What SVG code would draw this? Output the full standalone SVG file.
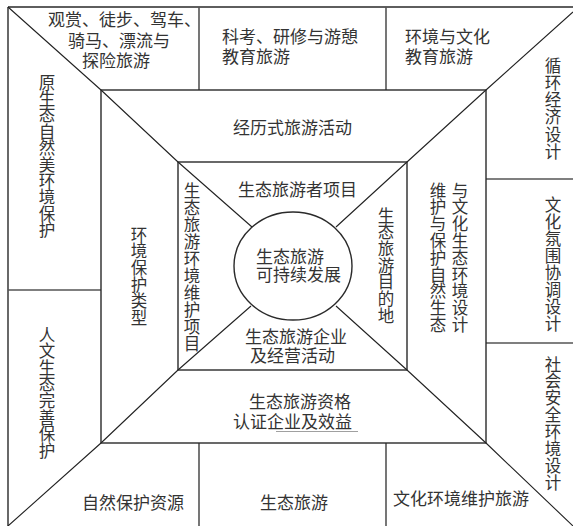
<svg xmlns="http://www.w3.org/2000/svg" width="573" height="526" viewBox="0 0 573 526">
<style>
.ln{fill:none;stroke:#2a2a2a;stroke-width:1.4}
.dv{fill:none;stroke:#555;stroke-width:1.6}
.dg{fill:none;stroke:#222;stroke-width:1.1}
text{font-family:"Noto Sans CJK SC","Noto Sans",sans-serif;fill:#333;font-size:17px}
.v{writing-mode:vertical-rl;font-size:16.5px}
</style>
<rect width="573" height="526" fill="#fff"/>
<g id="frame">
<path class="ln" d="M8,7H573M8,7V526"/>
<path class="dv" d="M199,7V90M386,7V90M199,443V526M386,443V526M8,290H101M486,179H573M486,343H573"/>
<rect class="ln" x="101" y="90" width="385" height="353"/>
<rect class="ln" x="178" y="162" width="229" height="208"/>
</g>
<g id="connectors">
<polyline class="dg" points="8,7 101,90 178,162 252,227"/>
<polyline class="dg" points="573,12 486,90 407,162 336,227"/>
<polyline class="dg" points="8,526 101,443 178,370 251,306"/>
<polyline class="dg" points="573,526 486,443 407,370 336,306"/>
<line x1="276" y1="431.5" x2="358" y2="431.5" stroke="#888" stroke-width="0.8"/>
</g>
<g id="core">
<ellipse class="ln" cx="293" cy="266" rx="59" ry="54" fill="#fff" stroke-width="1.2"/>
<text x="256" y="263">生态旅游</text>
<text x="256" y="281">可持续发展</text>
</g>
<g id="top-left"><text x="48" y="26">观赏、徒步、驾车、</text><text x="68" y="47">骑马、漂流与</text><text x="82" y="67">探险旅游</text></g>
<g id="top-mid"><text x="222" y="43">科考、研修与游憩</text><text x="222" y="63">教育旅游</text></g>
<g id="top-right"><text x="405" y="43">环境与文化</text><text x="405" y="63">教育旅游</text></g>
<g id="experience"><text x="233" y="134">经历式旅游活动</text></g>
<g id="tourist"><text x="238" y="196">生态旅游者项目</text></g>
<g id="enterprise"><text x="245" y="343">生态旅游企业</text><text x="250" y="362">及经营活动</text></g>
<g id="cert"><text x="249" y="408">生态旅游资格</text><text x="233" y="428">认证企业及效益</text></g>
<g id="bottom-left"><text x="82" y="509">自然保护资源</text></g>
<g id="bottom-mid"><text x="260" y="509">生态旅游</text></g>
<g id="bottom-right"><text x="393" y="505">文化环境维护旅游</text></g>
<g id="left-top"><text class="v" x="47" y="74" style="letter-spacing:-0.1px">原生态自然美环境保护</text></g>
<g id="left-bottom"><text class="v" x="47" y="326" style="letter-spacing:0.1px">人文生态完善保护</text></g>
<g id="env-type"><text class="v" x="139" y="226" style="letter-spacing:0.2px">环境保护类型</text></g>
<g id="env-project"><text class="v" x="192" y="182" style="letter-spacing:0.6px">生态旅游环境维护项目</text></g>
<g id="destination"><text class="v" x="386" y="207" style="letter-spacing:0.2px">生态旅游目的地</text></g>
<g id="design"><text class="v" x="438" y="182" style="letter-spacing:0.3px">维护与保护自然生态</text><text class="v" x="460" y="182" style="letter-spacing:0.3px">与文化生态环境设计</text></g>
<g id="right-1"><text class="v" x="553" y="57" style="letter-spacing:0.8px">循环经济设计</text></g>
<g id="right-2"><text class="v" x="553" y="196" style="letter-spacing:0.6px">文化氛围协调设计</text></g>
<g id="right-3"><text class="v" x="553" y="356" style="letter-spacing:0.4px">社会安全环境设计</text></g>
</svg>
